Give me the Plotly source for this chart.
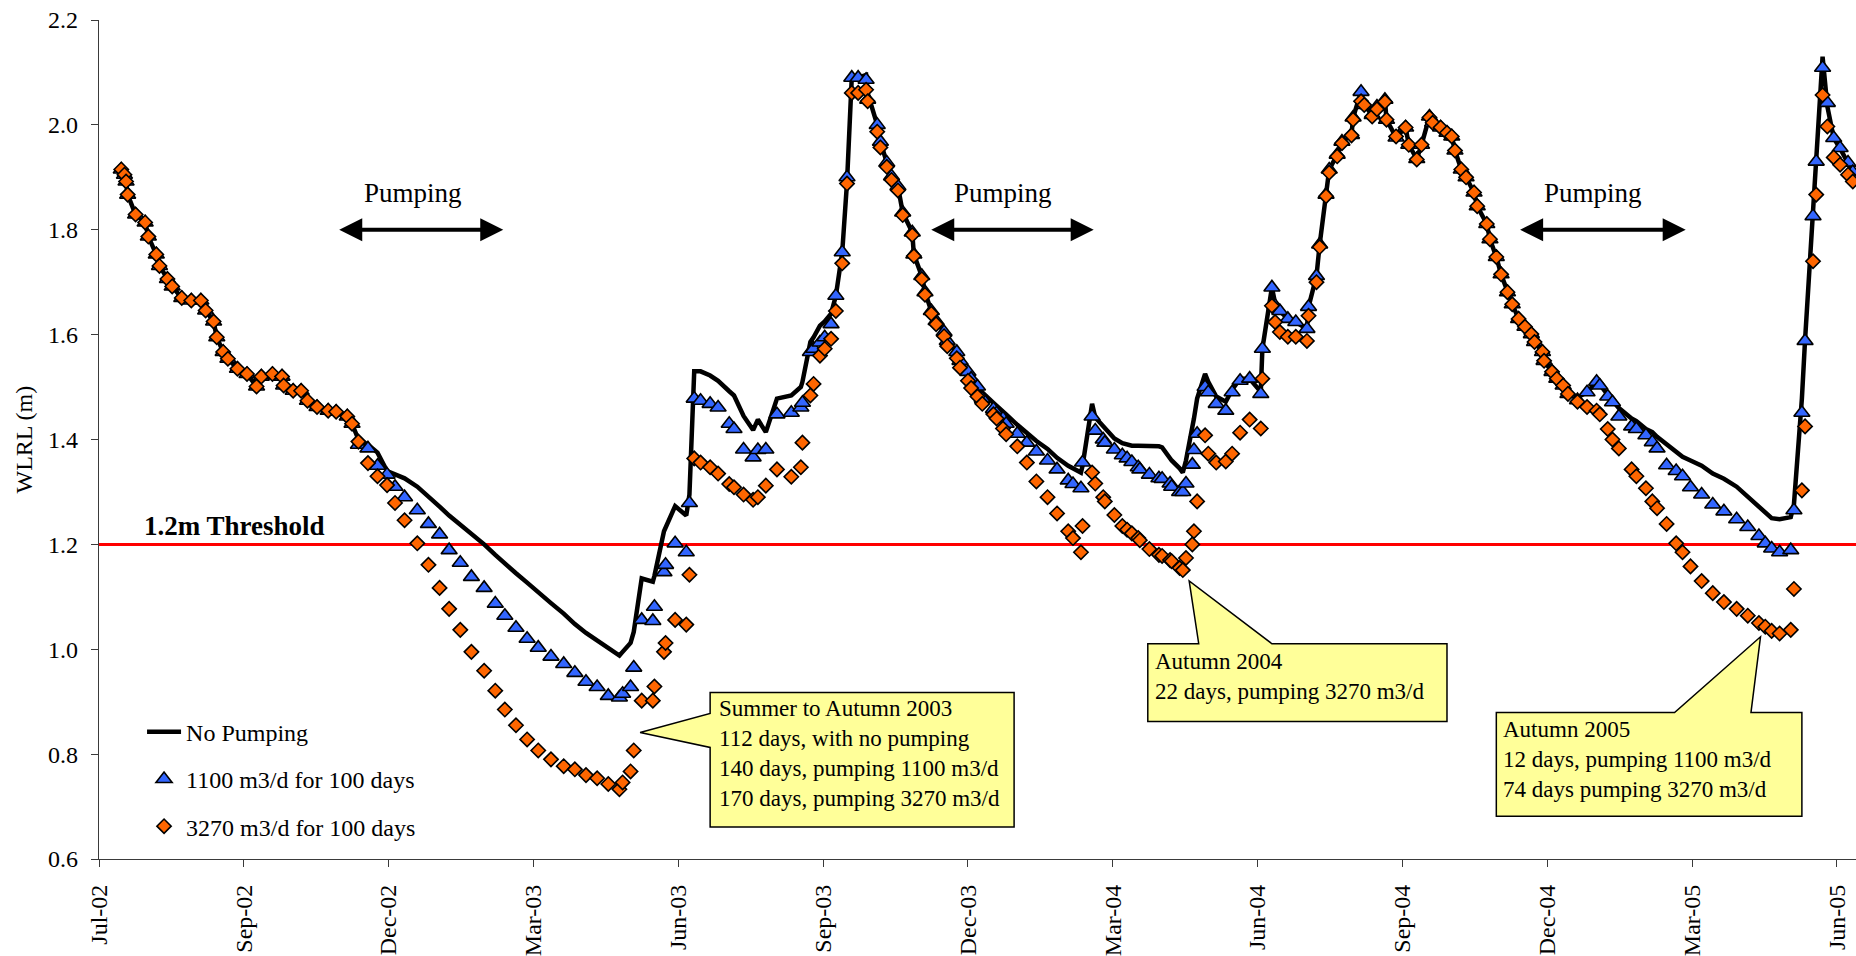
import plotly.graph_objects as go

FONT = "'Liberation Serif', 'Times New Roman', Times, 'DejaVu Serif', serif"

# ---- observation dates (shared by all three series) ----
obs_dates = [
    "2002-07-15", "2002-07-17", "2002-07-18", "2002-07-19", "2002-07-24", "2002-07-30",
    "2002-08-01", "2002-08-06", "2002-08-08", "2002-08-13", "2002-08-16", "2002-08-22", "2002-08-28",
    "2002-09-03", "2002-09-06", "2002-09-11", "2002-09-13", "2002-09-17", "2002-09-20", "2002-09-26",
    "2002-10-02", "2002-10-08", "2002-10-11", "2002-10-18", "2002-10-24", "2002-10-25", "2002-10-31",
    "2002-11-05", "2002-11-09", "2002-11-15", "2002-11-22", "2002-11-27",
    "2002-12-04", "2002-12-07", "2002-12-11", "2002-12-17", "2002-12-23", "2002-12-29",
    "2003-01-03", "2003-01-09", "2003-01-17", "2003-01-24", "2003-01-31",
    "2003-02-06", "2003-02-13", "2003-02-20", "2003-02-28",
    "2003-03-07", "2003-03-13", "2003-03-20", "2003-03-27",
    "2003-04-03", "2003-04-11", "2003-04-19", "2003-04-26",
    "2003-05-03", "2003-05-10", "2003-05-17", "2003-05-24", "2003-05-26", "2003-05-31",
    "2003-06-02", "2003-06-07", "2003-06-14", "2003-06-15", "2003-06-21", "2003-06-22", "2003-06-28",
    "2003-07-05", "2003-07-07", "2003-07-10", "2003-07-14", "2003-07-20", "2003-07-25",
    "2003-08-01", "2003-08-04", "2003-08-10", "2003-08-16", "2003-08-19", "2003-08-24", "2003-08-31",
    "2003-09-09", "2003-09-15", "2003-09-16", "2003-09-21", "2003-09-23", "2003-09-27", "2003-09-30",
    "2003-10-04", "2003-10-07", "2003-10-11", "2003-10-14", "2003-10-17", "2003-10-21", "2003-10-26", "2003-10-27",
    "2003-11-02", "2003-11-04", "2003-11-08", "2003-11-11", "2003-11-15", "2003-11-18", "2003-11-24", "2003-11-25", "2003-11-30",
    "2003-12-02", "2003-12-06", "2003-12-09", "2003-12-14", "2003-12-16", "2003-12-22", "2003-12-24", "2003-12-29", "2003-12-31",
    "2004-01-04", "2004-01-07", "2004-01-14", "2004-01-16", "2004-01-20", "2004-01-22", "2004-01-29",
    "2004-02-04", "2004-02-10", "2004-02-17", "2004-02-23",
    "2004-03-01", "2004-03-04", "2004-03-09", "2004-03-10", "2004-03-16", "2004-03-18", "2004-03-23", "2004-03-24", "2004-03-30",
    "2004-04-04", "2004-04-07", "2004-04-10", "2004-04-14", "2004-04-15", "2004-04-21", "2004-04-27", "2004-04-29",
    "2004-05-04", "2004-05-05", "2004-05-10", "2004-05-12", "2004-05-14", "2004-05-18", "2004-05-19", "2004-05-21", "2004-05-26", "2004-05-28",
    "2004-06-02", "2004-06-08", "2004-06-12", "2004-06-17", "2004-06-23", "2004-06-30",
    "2004-07-01", "2004-07-07", "2004-07-09", "2004-07-12", "2004-07-17", "2004-07-22", "2004-07-29", "2004-07-30",
    "2004-08-04", "2004-08-06", "2004-08-10", "2004-08-12", "2004-08-17", "2004-08-20", "2004-08-26", "2004-08-27",
    "2004-09-01", "2004-09-03", "2004-09-08", "2004-09-11", "2004-09-16", "2004-09-17", "2004-09-23", "2004-09-29",
    "2004-10-01", "2004-10-06", "2004-10-09", "2004-10-14", "2004-10-16", "2004-10-21", "2004-10-25", "2004-10-28", "2004-10-30",
    "2004-11-03", "2004-11-06", "2004-11-11", "2004-11-13", "2004-11-19", "2004-11-21", "2004-11-25", "2004-11-28",
    "2004-12-02", "2004-12-05", "2004-12-09", "2004-12-13", "2004-12-17", "2004-12-19", "2004-12-24", "2004-12-25", "2004-12-30",
    "2005-01-02", "2005-01-06", "2005-01-09", "2005-01-15", "2005-01-21", "2005-01-27", "2005-01-29",
    "2005-02-03", "2005-02-06", "2005-02-10", "2005-02-18", "2005-02-21", "2005-02-27",
    "2005-03-03", "2005-03-06", "2005-03-12", "2005-03-18", "2005-03-22", "2005-03-27",
    "2005-04-03", "2005-04-10", "2005-04-17", "2005-04-25",
    "2005-05-02", "2005-05-09", "2005-05-13", "2005-05-17", "2005-05-22", "2005-05-29", "2005-05-31",
    "2005-06-05", "2005-06-07", "2005-06-12", "2005-06-14", "2005-06-18", "2005-06-21", "2005-06-25", "2005-06-29",
    "2005-07-04", "2005-07-07",
]

# ---- WLRL (m), no pumping ----
no_pumping = [
    1.915, 1.905, 1.892, 1.867, 1.829, 1.814,
    1.787, 1.753, 1.731, 1.706, 1.692, 1.670, 1.665,
    1.665, 1.646, 1.625, 1.595, 1.567, 1.554, 1.535,
    1.525, 1.501, 1.520, 1.525, 1.520, 1.503, 1.493,
    1.493, 1.474, 1.462, 1.455, 1.453,
    1.444, 1.430, 1.400, 1.390, 1.375, 1.340,
    1.333, 1.326, 1.310, 1.292, 1.272,
    1.255, 1.238, 1.220, 1.200,
    1.180, 1.163, 1.145, 1.127,
    1.108, 1.088, 1.068, 1.048,
    1.031, 1.016, 1.001, 0.988, 0.995, 1.012,
    1.033, 1.135, 1.129, 1.140, 1.225, 1.232, 1.273,
    1.255, 1.295, 1.530, 1.530, 1.522, 1.512,
    1.492, 1.484, 1.445, 1.418, 1.438, 1.414, 1.478,
    1.484, 1.500, 1.510, 1.586, 1.595, 1.617, 1.625,
    1.640, 1.674, 1.757, 1.890, 2.090, 2.090, 2.095, 2.060,
    2.000, 1.968, 1.928, 1.902, 1.883, 1.833, 1.795, 1.753, 1.712,
    1.681, 1.645, 1.626, 1.605, 1.588, 1.567, 1.550, 1.529, 1.518,
    1.505, 1.490, 1.470, 1.465, 1.455, 1.448, 1.428,
    1.412, 1.397, 1.382, 1.365,
    1.350, 1.345, 1.337, 1.350, 1.468, 1.442, 1.425, 1.420, 1.402,
    1.393, 1.390, 1.388, 1.388, 1.388, 1.387, 1.387, 1.385,
    1.366, 1.360, 1.345, 1.337, 1.360, 1.417, 1.440, 1.478, 1.525, 1.510,
    1.482, 1.472, 1.495, 1.516, 1.516, 1.491,
    1.573, 1.690, 1.660, 1.645, 1.630, 1.624, 1.611, 1.653,
    1.712, 1.772, 1.867, 1.915, 1.943, 1.968, 1.981, 2.014,
    2.063, 2.038, 2.019, 2.035, 2.048, 2.010, 1.976, 1.995,
    1.962, 1.935, 1.962, 2.016, 2.004, 1.995, 1.985, 1.978, 1.951,
    1.915, 1.900, 1.871, 1.845, 1.811, 1.782, 1.748, 1.715,
    1.681, 1.658, 1.630, 1.615, 1.601, 1.586, 1.567, 1.550, 1.529,
    1.516, 1.503, 1.490, 1.480, 1.490, 1.510, 1.505,
    1.485, 1.475, 1.460, 1.440, 1.435, 1.420,
    1.414, 1.405, 1.390, 1.375, 1.367, 1.360,
    1.350, 1.335, 1.325, 1.310,
    1.290, 1.272, 1.260, 1.250, 1.248, 1.252, 1.276,
    1.478, 1.590, 1.826, 1.934, 2.130, 2.035, 1.975, 1.955,
    1.928, 1.910,
]

# ---- WLRL (m), 1100 m3/d for 100 days ----
pump_1100 = [
    1.915, 1.905, 1.892, 1.867, 1.829, 1.814,
    1.787, 1.753, 1.731, 1.706, 1.692, 1.670, 1.665,
    1.665, 1.646, 1.625, 1.595, 1.567, 1.554, 1.535,
    1.525, 1.501, 1.520, 1.525, 1.520, 1.503, 1.493,
    1.493, 1.474, 1.462, 1.455, 1.453,
    1.444, 1.430, 1.390, 1.383, 1.350, 1.333,
    1.310, 1.290, 1.265, 1.239, 1.219,
    1.189, 1.165, 1.138, 1.117,
    1.087, 1.064, 1.041, 1.020,
    1.003, 0.986, 0.972, 0.955,
    0.938, 0.928, 0.911, 0.908, 0.915, 0.928,
    0.965, 1.056, 1.054, 1.081, 1.147, 1.161, 1.202,
    1.185, 1.279, 1.478, 1.474, 1.468, 1.461,
    1.430, 1.420, 1.381, 1.366, 1.380, 1.381, 1.448,
    1.451, 1.461, 1.470, 1.567, 1.573, 1.585, 1.595,
    1.620, 1.674, 1.757, 1.900, 2.090, 2.090, 2.086, 2.048,
    2.000, 1.968, 1.928, 1.902, 1.883, 1.833, 1.795, 1.753, 1.712,
    1.681, 1.645, 1.626, 1.605, 1.588, 1.567, 1.550, 1.529, 1.516,
    1.501, 1.478, 1.458, 1.450, 1.440, 1.430, 1.411,
    1.394, 1.377, 1.360, 1.343,
    1.322, 1.315, 1.307, 1.356, 1.444, 1.417, 1.400, 1.394, 1.381,
    1.370, 1.364, 1.357, 1.347, 1.343, 1.333, 1.326, 1.325,
    1.316, 1.310, 1.300, 1.300, 1.316, 1.352, 1.380, 1.411, 1.500, 1.490,
    1.468, 1.455, 1.490, 1.512, 1.516, 1.487,
    1.573, 1.690, 1.655, 1.645, 1.630, 1.624, 1.611, 1.653,
    1.712, 1.772, 1.867, 1.915, 1.943, 1.968, 1.981, 2.014,
    2.063, 2.038, 2.019, 2.035, 2.048, 2.010, 1.976, 1.995,
    1.962, 1.935, 1.962, 2.016, 2.004, 1.995, 1.985, 1.978, 1.951,
    1.915, 1.900, 1.871, 1.845, 1.811, 1.782, 1.748, 1.715,
    1.681, 1.658, 1.630, 1.615, 1.601, 1.586, 1.567, 1.550, 1.529,
    1.516, 1.503, 1.487, 1.475, 1.490, 1.510, 1.503,
    1.482, 1.471, 1.444, 1.425, 1.420, 1.408,
    1.395, 1.383, 1.351, 1.340, 1.330, 1.309,
    1.295, 1.276, 1.263, 1.248,
    1.233, 1.216, 1.202, 1.192, 1.185, 1.189, 1.265,
    1.451, 1.588, 1.826, 1.930, 2.109, 2.042, 1.975, 1.956,
    1.928, 1.910,
]

# ---- WLRL (m), 3270 m3/d for 100 days ----
pump_3270 = [
    1.915, 1.905, 1.892, 1.867, 1.829, 1.814,
    1.787, 1.753, 1.731, 1.706, 1.692, 1.670, 1.665,
    1.665, 1.646, 1.625, 1.595, 1.567, 1.554, 1.535,
    1.525, 1.501, 1.520, 1.525, 1.520, 1.503, 1.493,
    1.493, 1.474, 1.462, 1.455, 1.453,
    1.444, 1.430, 1.396, 1.355, 1.330, 1.313,
    1.279, 1.246, 1.202, 1.161, 1.117,
    1.077, 1.037, 0.995, 0.959,
    0.921, 0.885, 0.855, 0.828,
    0.807, 0.790, 0.777, 0.771,
    0.760, 0.754, 0.743, 0.733, 0.746, 0.767,
    0.807, 0.902, 0.902, 0.929, 0.995, 1.012, 1.056,
    1.047, 1.142, 1.364, 1.356, 1.347, 1.335,
    1.315, 1.309, 1.295, 1.285, 1.290, 1.312, 1.343,
    1.329, 1.347, 1.394, 1.484, 1.506, 1.560, 1.573,
    1.592, 1.645, 1.736, 1.888, 2.061, 2.061, 2.067, 2.045,
    1.987, 1.957, 1.920, 1.895, 1.875, 1.828, 1.790, 1.750, 1.706,
    1.676, 1.640, 1.620, 1.597, 1.578, 1.555, 1.537, 1.512, 1.498,
    1.482, 1.468, 1.448, 1.440, 1.421, 1.410, 1.387,
    1.356, 1.320, 1.290, 1.259,
    1.225, 1.212, 1.185, 1.235, 1.337, 1.316, 1.290, 1.282, 1.256,
    1.235, 1.228, 1.221, 1.212, 1.208, 1.191, 1.180, 1.178,
    1.170, 1.168, 1.155, 1.151, 1.174, 1.200, 1.225, 1.282, 1.408, 1.373,
    1.356, 1.358, 1.373, 1.413, 1.438, 1.421,
    1.516, 1.655, 1.624, 1.605, 1.596, 1.596, 1.588, 1.636,
    1.700, 1.767, 1.864, 1.909, 1.940, 1.965, 1.980, 2.010,
    2.045, 2.038, 2.016, 2.030, 2.044, 2.010, 1.978, 1.995,
    1.962, 1.934, 1.962, 2.014, 2.004, 1.995, 1.985, 1.978, 1.951,
    1.915, 1.900, 1.871, 1.845, 1.811, 1.782, 1.748, 1.715,
    1.681, 1.658, 1.630, 1.615, 1.601, 1.586, 1.567, 1.550, 1.529,
    1.516, 1.503, 1.487, 1.472, 1.462, 1.455, 1.448,
    1.420, 1.400, 1.383, 1.343, 1.330, 1.307,
    1.282, 1.269, 1.239, 1.202, 1.185, 1.158,
    1.130, 1.107, 1.090, 1.077,
    1.064, 1.050, 1.043, 1.035, 1.030, 1.037, 1.115,
    1.303, 1.425, 1.740, 1.867, 2.057, 1.997, 1.938, 1.924,
    1.905, 1.892,
]

assert len(obs_dates) == len(no_pumping) == len(pump_1100) == len(pump_3270)

# ---- axis ticks (every 91 days) ----
tick_dates = [
    "2002-07-01", "2002-09-30", "2002-12-30", "2003-03-31", "2003-06-30",
    "2003-09-29", "2003-12-29", "2004-03-29", "2004-06-28", "2004-09-27",
    "2004-12-27", "2005-03-28", "2005-06-27",
]
tick_labels = [
    "Jul-02", "Sep-02", "Dec-02", "Mar-03", "Jun-03", "Sep-03", "Dec-03",
    "Mar-04", "Jun-04", "Sep-04", "Dec-04", "Mar-05", "Jun-05",
]

THRESHOLD = 1.2

# pumping periods drawn as double-headed arrows (start, end) at WLRL 1.8
pumping_periods = [
    ("2002-11-28", "2003-03-12"),
    ("2003-12-05", "2004-03-17"),
    ("2004-12-09", "2005-03-24"),
]
pumping_label_dates = ["2003-01-14", "2004-01-20", "2005-01-25"]

AXIS_COLOR = "#3a3a3a"

fig = go.Figure()

fig.add_trace(go.Scatter(
    x=obs_dates, y=no_pumping, mode="lines", name="No Pumping",
    line=dict(color="black", width=4.5), legendgroup="g1",
))
fig.add_trace(go.Scatter(
    x=obs_dates, y=pump_1100, mode="markers", name="1100 m3/d for 100 days",
    marker=dict(symbol="triangle-up", size=14, color="#3366FF",
                line=dict(color="black", width=1.6)),
    legendgroup="g2",
))
fig.add_trace(go.Scatter(
    x=obs_dates, y=pump_3270, mode="markers", name="3270 m3/d for 100 days",
    marker=dict(symbol="diamond", size=11, color="#FF6600",
                line=dict(color="black", width=1.6)),
    legendgroup="g3",
))

shapes = [
    dict(type="line", xref="paper", x0=0, x1=1, yref="y", y0=THRESHOLD, y1=THRESHOLD,
         line=dict(color="#FF0000", width=3), layer="below"),
]


def callout(points):
    path = "M " + " L ".join(f"{d},{v}" for d, v in points) + " Z"
    return dict(type="path", xref="x", yref="y", path=path,
                fillcolor="#FFFF99", line=dict(color="black", width=1.5), layer="above")


shapes.append(callout([
    ("2003-07-20", 0.9173), ("2004-01-27", 0.9173), ("2004-01-27", 0.6608),
    ("2003-07-20", 0.6608), ("2003-07-20", 0.8128), ("2003-06-06", 0.8413),
    ("2003-07-20", 0.8774),
]))
shapes.append(callout([
    ("2004-04-20", 1.0105), ("2004-05-22", 1.0105), ("2004-05-16", 1.1302),
    ("2004-07-07", 1.0105), ("2004-10-25", 1.0105), ("2004-10-25", 0.8622),
    ("2004-04-20", 0.8622),
]))
shapes.append(callout([
    ("2004-11-25", 0.8793), ("2005-03-17", 0.8793), ("2005-05-10", 1.0238),
    ("2005-05-04", 0.8793), ("2005-06-05", 0.8793), ("2005-06-05", 0.6817),
    ("2004-11-25", 0.6817),
]))

annotations = []
for start, end in pumping_periods:
    annotations.append(dict(
        x=end, y=1.8, ax=start, ay=1.8, xref="x", yref="y", axref="x", ayref="y",
        text="", showarrow=True, arrowside="end+start",
        arrowhead=2, startarrowhead=2, arrowsize=1.15, startarrowsize=1.15,
        arrowwidth=4, arrowcolor="black", standoff=0, startstandoff=0,
    ))
for d in pumping_label_dates:
    annotations.append(dict(
        x=d, y=1.87, xref="x", yref="y", text="Pumping", showarrow=False,
        xanchor="center", yanchor="middle", font=dict(family=FONT, size=27, color="black"),
    ))

annotations.append(dict(
    x="2002-07-28", y=1.235, xref="x", yref="y", text="<b>1.2m Threshold</b>",
    showarrow=False, xanchor="left", yanchor="middle",
    font=dict(family=FONT, size=27, color="black"),
))

callout_text = [
    ("2003-07-24", 0.8015,
     "Summer to Autumn 2003<br>112 days, with no pumping<br>"
     "140 days, pumping 1100 m3/d<br>170 days, pumping 3270 m3/d"),
    ("2004-04-23", 0.9487, "Autumn 2004<br>22 days, pumping 3270 m3/d"),
    ("2004-11-28", 0.7906,
     "Autumn 2005<br>12 days, pumping 1100 m3/d<br>74 days pumping 3270 m3/d"),
]
for d, v, t in callout_text:
    annotations.append(dict(
        x=d, y=v, xref="x", yref="y", text=t, showarrow=False,
        xanchor="left", yanchor="middle", align="left",
        font=dict(family=FONT, size=23, color="black"),
    ))

annotations.append(dict(
    x=-0.0427, y=0.5, xref="paper", yref="paper", text="WLRL (m)", textangle=-90,
    showarrow=False, xanchor="center", yanchor="middle",
    font=dict(family=FONT, size=24, color="black"),
))

fig.update_layout(
    width=1856, height=956, autosize=False,
    margin=dict(l=99, r=0, t=20, b=94),
    paper_bgcolor="white", plot_bgcolor="white",
    font=dict(family=FONT, size=24, color="black"),
    showlegend=True,
    legend=dict(
        x=0.0245, y=0.178, xanchor="left", yanchor="top",
        bgcolor="rgba(0,0,0,0)", borderwidth=0, itemwidth=34,
        font=dict(family=FONT, size=24, color="black"),
        tracegroupgap=13, traceorder="grouped",
    ),
    shapes=shapes,
    annotations=annotations,
    xaxis=dict(
        type="date", range=["2002-07-01", "2005-07-09"],
        tickmode="array", tickvals=tick_dates, ticktext=tick_labels,
        tickangle=-90, ticks="outside", ticklen=7, tickwidth=1.2, tickcolor=AXIS_COLOR,
        showline=True, linecolor=AXIS_COLOR, linewidth=1.2,
        showgrid=False, zeroline=False, ticklabelstandoff=8,
        tickfont=dict(family=FONT, size=24, color="black"),
    ),
    yaxis=dict(
        range=[0.6, 2.2], tick0=0.6, dtick=0.2, tickformat=".1f",
        ticks="outside", ticklen=7, tickwidth=1.2, tickcolor=AXIS_COLOR,
        showline=True, linecolor=AXIS_COLOR, linewidth=1.2,
        showgrid=False, zeroline=False, ticklabelstandoff=8,
        tickfont=dict(family=FONT, size=24, color="black"),
    ),
)

fig.write_html("out.html")
